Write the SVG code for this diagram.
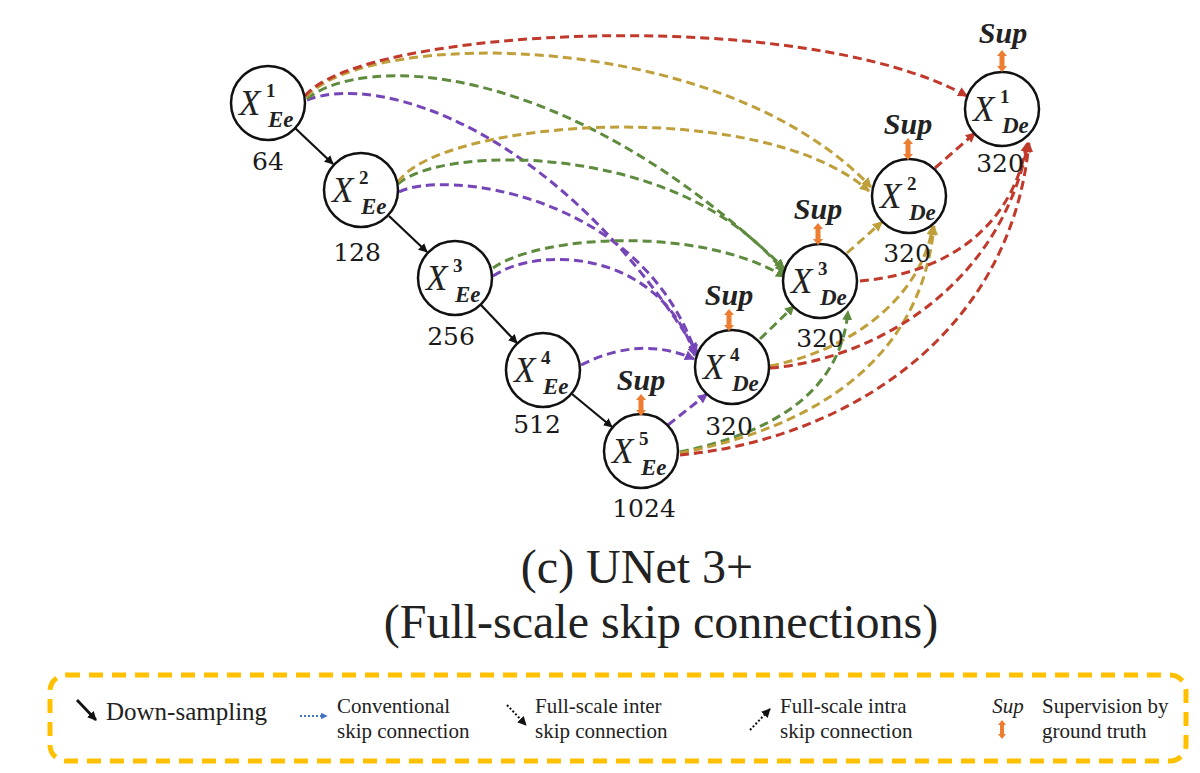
<svg xmlns="http://www.w3.org/2000/svg" xmlns:xlink="http://www.w3.org/1999/xlink" width="1200" height="773" viewBox="0 0 1200 773">
<style>
.node circle{fill:#fff;stroke:#111;stroke-width:2.5}
.X{font-family:"Liberation Serif",serif;font-style:italic;font-size:35px;fill:#222}
.sp{font-family:"Liberation Serif",serif;font-weight:bold;font-size:19px;fill:#222}
.sb{font-family:"Liberation Serif",serif;font-style:italic;font-weight:bold;font-size:23px;fill:#222}
.num{font-family:"DejaVu Serif",serif;font-size:25px;fill:#1a1a1a;text-anchor:middle}
.sup{font-family:"Liberation Serif",serif;font-style:italic;font-weight:bold;font-size:30px;fill:#222;text-anchor:middle}
.c{fill:none;stroke-width:3;stroke-dasharray:9 5}
.pu{stroke:#7646B8;marker-end:url(#mpu)}
.gr{stroke:#5E8B3E;marker-end:url(#mgr)}
.mu{stroke:#BF9F3A;marker-end:url(#mmu)}
.rd{stroke:#C0392B;marker-end:url(#mrd)}
.down{stroke:#111;stroke-width:2.2;fill:none;marker-end:url(#mbk)}
.title{font-family:"Liberation Serif",serif;font-size:48px;fill:#222;text-anchor:middle}
.lg{font-family:"Liberation Serif",serif;font-size:21px;fill:#222}
.sa{fill:#ED7D31}
</style>
<defs>
<marker id="mpu" viewBox="0 0 10 10" refX="9" refY="5" markerWidth="10" markerHeight="10" markerUnits="userSpaceOnUse" orient="auto"><path d="M0,0 L10,5 L0,10 z" fill="#7646B8"/></marker>
<marker id="mgr" viewBox="0 0 10 10" refX="9" refY="5" markerWidth="10" markerHeight="10" markerUnits="userSpaceOnUse" orient="auto"><path d="M0,0 L10,5 L0,10 z" fill="#5E8B3E"/></marker>
<marker id="mmu" viewBox="0 0 10 10" refX="9" refY="5" markerWidth="10" markerHeight="10" markerUnits="userSpaceOnUse" orient="auto"><path d="M0,0 L10,5 L0,10 z" fill="#BF9F3A"/></marker>
<marker id="mrd" viewBox="0 0 10 10" refX="9" refY="5" markerWidth="10" markerHeight="10" markerUnits="userSpaceOnUse" orient="auto"><path d="M0,0 L10,5 L0,10 z" fill="#C0392B"/></marker>
<marker id="mbk" viewBox="0 0 10 10" refX="9" refY="5" markerWidth="9" markerHeight="9" markerUnits="userSpaceOnUse" orient="auto"><path d="M0,0 L10,5 L0,10 z" fill="#111"/></marker>
<marker id="mbl" viewBox="0 0 10 10" refX="9" refY="5" markerWidth="7" markerHeight="7" markerUnits="userSpaceOnUse" orient="auto"><path d="M0,0 L10,5 L0,10 z" fill="#4472C4"/></marker>
<path id="sarrow" class="sa" d="M0,0 l5,6 h-2.5 v10 h2.5 l-5,6 l-5,-6 h2.5 v-10 h-2.5 z"/>
</defs>
<rect width="1200" height="773" fill="#fff"/>

<g id="connectors">
<!-- down-sampling -->
<line class="down" x1="295" y1="128" x2="333" y2="164"/>
<line class="down" x1="389" y1="216" x2="427" y2="252"/>
<line class="down" x1="481" y1="305" x2="517" y2="343"/>
<line class="down" x1="572" y1="394" x2="612" y2="427"/>
<!-- to D4 (purple) -->
<path class="c pu" d="M307,100 C380,72 560,130 697,352"/>
<path class="c pu" d="M399,192 C440,170 640,190 696,354"/>
<path class="c pu" d="M493,276 C540,245 660,250 695,356"/>
<path class="c pu" d="M581,365 Q640,335 694,359"/>
<path class="c pu" d="M668,425 L707,394"/>
<!-- to D3 (green) -->
<path class="c gr" d="M307,99 C360,55 560,55 784,268"/>
<path class="c gr" d="M398,184 C440,145 680,140 784,272"/>
<path class="c gr" d="M493,268 C540,235 700,225 785,277"/>
<path class="c gr" d="M760,339 L794,306"/>
<path class="c gr" d="M680,452 C760,435 840,400 848,311"/>
<!-- to D2 (mustard) -->
<path class="c mu" d="M306,97 C370,28 720,28 871,187"/>
<path class="c mu" d="M398,182 C440,120 760,95 869,191"/>
<path class="c mu" d="M847,253 L882,222"/>
<path class="c mu" d="M770,366 C850,350 920,300 933,226"/>
<path class="c mu" d="M680,453 C800,430 920,370 934,226"/>
<!-- to D1 (red) -->
<path class="c rd" d="M305,96 C360,28 800,4 967,96"/>
<path class="c rd" d="M935,168 L975,133"/>
<path class="c rd" d="M860,281 C930,275 1010,240 1027,143"/>
<path class="c rd" d="M770,368 C870,360 1000,290 1028,143"/>
<path class="c rd" d="M680,455 C840,440 1010,340 1029,143"/>
</g>

<g id="E1" class="node" transform="translate(268,103)"><circle r="37"/><text class="X" x="-29" y="12">X</text><text class="sp" x="-2" y="-6">1</text><text class="sb" x="0" y="24">Ee</text></g>
<g id="E2" class="node" transform="translate(361,190)"><circle r="37"/><text class="X" x="-29" y="12">X</text><text class="sp" x="-2" y="-6">2</text><text class="sb" x="0" y="24">Ee</text></g>
<g id="E3" class="node" transform="translate(455,278)"><circle r="37"/><text class="X" x="-29" y="12">X</text><text class="sp" x="-2" y="-6">3</text><text class="sb" x="0" y="24">Ee</text></g>
<g id="E4" class="node" transform="translate(543,370)"><circle r="37"/><text class="X" x="-29" y="12">X</text><text class="sp" x="-2" y="-6">4</text><text class="sb" x="0" y="24">Ee</text></g>
<g id="E5" class="node" transform="translate(641,451)"><circle r="37"/><text class="X" x="-29" y="12">X</text><text class="sp" x="-2" y="-6">5</text><text class="sb" x="0" y="24">Ee</text></g>
<g id="D4" class="node" transform="translate(732,367)"><circle r="37"/><text class="X" x="-29" y="12">X</text><text class="sp" x="-2" y="-6">4</text><text class="sb" x="0" y="24">De</text></g>
<g id="D3" class="node" transform="translate(820,281)"><circle r="37"/><text class="X" x="-29" y="12">X</text><text class="sp" x="-2" y="-6">3</text><text class="sb" x="0" y="24">De</text></g>
<g id="D2" class="node" transform="translate(909,196)"><circle r="37"/><text class="X" x="-29" y="12">X</text><text class="sp" x="-2" y="-6">2</text><text class="sb" x="0" y="24">De</text></g>
<g id="D1" class="node" transform="translate(1002,109)"><circle r="37"/><text class="X" x="-29" y="12">X</text><text class="sp" x="-2" y="-6">1</text><text class="sb" x="0" y="24">De</text></g>

<g id="numbers">
<text class="num" x="268" y="170">64</text>
<text class="num" x="357" y="261">128</text>
<text class="num" x="451" y="345">256</text>
<text class="num" x="537" y="433">512</text>
<text class="num" x="644" y="517">1024</text>
<text class="num" x="729" y="435">320</text>
<text class="num" x="820" y="347">320</text>
<text class="num" x="907" y="262">320</text>
<text class="num" x="1000" y="172">320</text>
</g>

<g id="supervision">
<text class="sup" x="641" y="390">Sup</text><use xlink:href="#sarrow" x="641" y="394"/>
<text class="sup" x="729" y="305">Sup</text><use xlink:href="#sarrow" x="729" y="309"/>
<text class="sup" x="818" y="219">Sup</text><use xlink:href="#sarrow" x="818" y="223"/>
<text class="sup" x="908" y="134">Sup</text><use xlink:href="#sarrow" x="908" y="138"/>
<text class="sup" x="1003" y="43">Sup</text><use xlink:href="#sarrow" x="1002" y="50"/>
</g>

<g id="title">
<text class="title" x="637" y="583">(c) UNet 3+</text>
<text class="title" x="661" y="638">(Full-scale skip connections)</text>
</g>

<g id="legend">
<rect x="50" y="675" width="1136" height="86" rx="16" fill="none" stroke="#FFC000" stroke-width="5" stroke-dasharray="14 9"/>
<line x1="77" y1="700" x2="96" y2="720" stroke="#111" stroke-width="2.8" marker-end="url(#mbk)"/>
<text class="lg" x="106" y="720" style="font-size:25px">Down-sampling</text>
<line x1="300" y1="716" x2="327" y2="716" stroke="#4472C4" stroke-width="2" stroke-dasharray="2 2" marker-end="url(#mbl)"/>
<text class="lg" x="337" y="713">Conventional</text>
<text class="lg" x="337" y="738">skip connection</text>
<line x1="507" y1="705" x2="526" y2="725" stroke="#111" stroke-width="2" stroke-dasharray="2 2" marker-end="url(#mbk)"/>
<text class="lg" x="535" y="713">Full-scale inter</text>
<text class="lg" x="535" y="738">skip connection</text>
<line x1="750" y1="730" x2="770" y2="709" stroke="#111" stroke-width="2" stroke-dasharray="2 2" marker-end="url(#mbk)"/>
<text class="lg" x="780" y="713">Full-scale intra</text>
<text class="lg" x="780" y="738">skip connection</text>
<text x="1008" y="713" style="font-family:'Liberation Serif',serif;font-style:italic;font-size:21px;fill:#222;text-anchor:middle">Sup</text>
<path class="sa" d="M1002,720 l4,5 h-2 v9 h2 l-4,5 l-4,-5 h2 v-9 h-2 z"/>
<text class="lg" x="1042" y="713">Supervision by</text>
<text class="lg" x="1042" y="738">ground truth</text>
</g>
</svg>
